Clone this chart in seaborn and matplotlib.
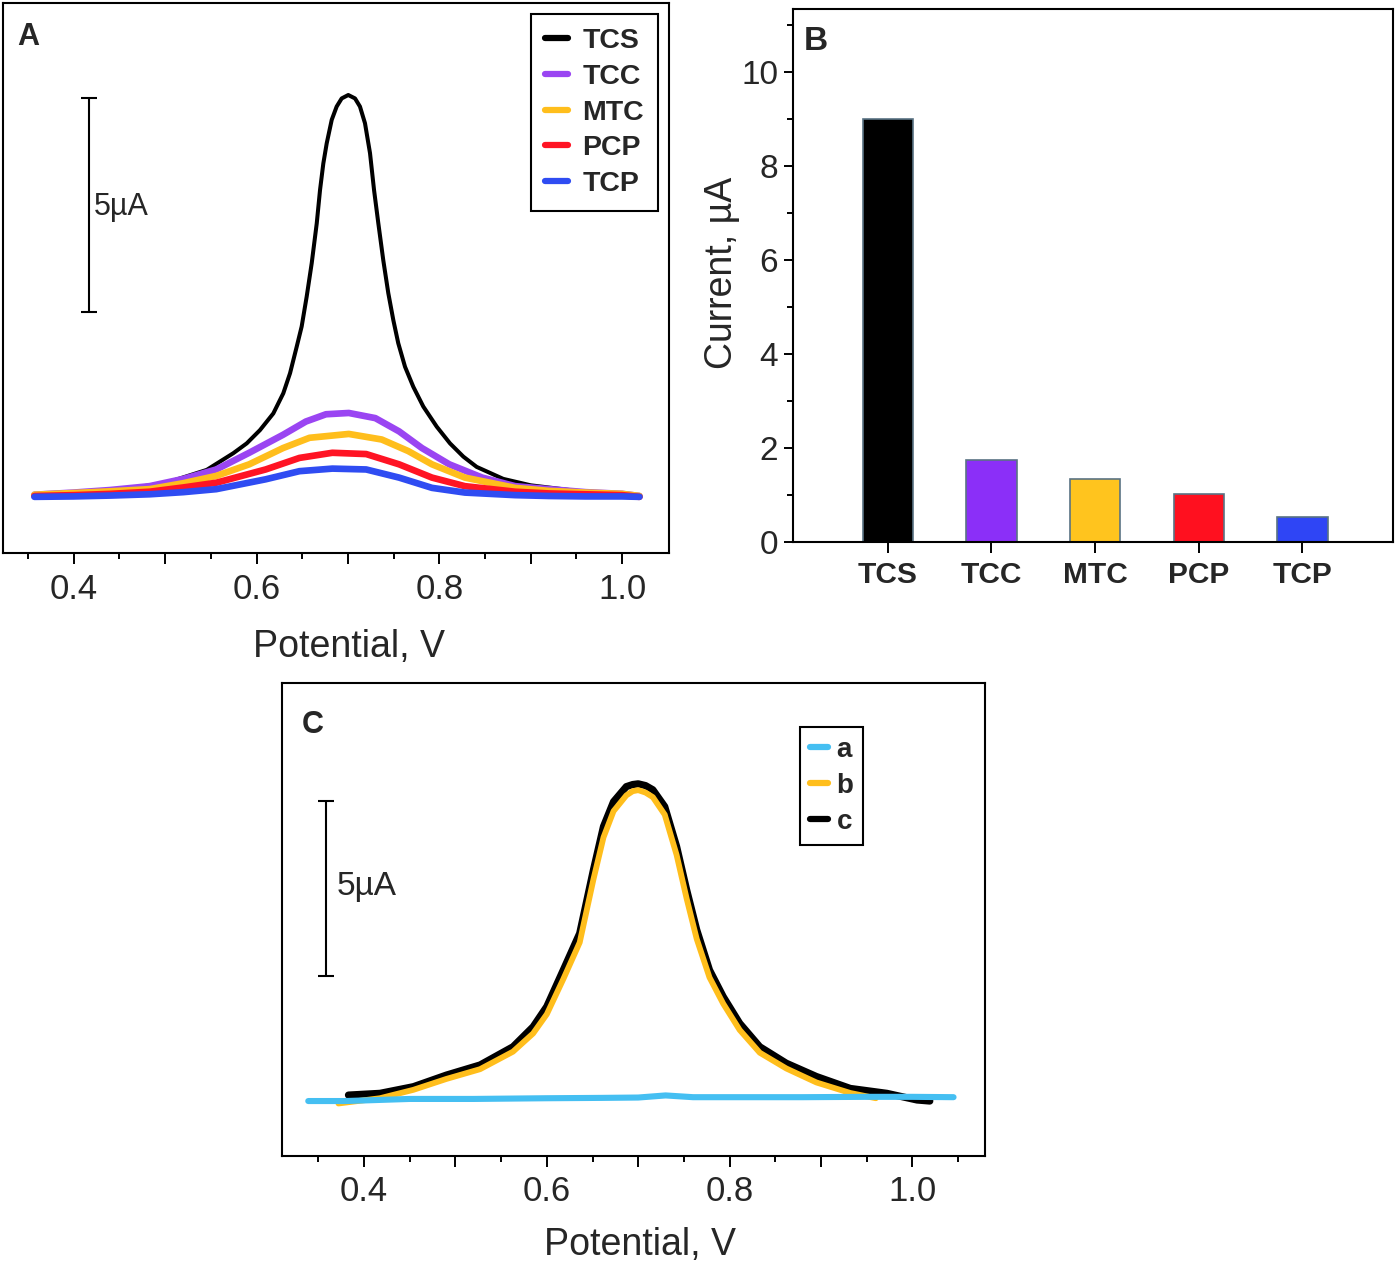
import numpy as np
import pandas as pd
import seaborn as sns
import matplotlib.pyplot as plt
from matplotlib import font_manager
from matplotlib.ticker import FixedLocator, MultipleLocator

# ---- Panel A: DPV curves of the five analytes (potential V, current uA above baseline)
tcs_v = [0.357, 0.40, 0.45, 0.50, 0.5455, 0.5746, 0.5893, 0.6038, 0.6184, 0.6293,
         0.6367, 0.644, 0.6494, 0.6549, 0.6604, 0.6659, 0.6695, 0.6731, 0.6768, 0.6823,
         0.6877, 0.6932, 0.7004, 0.7078, 0.7132, 0.7187, 0.7242, 0.7286, 0.7333, 0.7387,
         0.7442, 0.7497, 0.7551, 0.7625, 0.7716, 0.7825, 0.7972, 0.8117, 0.8263, 0.8409,
         0.87, 0.90, 0.95, 1.00, 1.019]
tcs_i = [0.0, 0.05, 0.15, 0.30, 0.61, 1.0, 1.23, 1.54, 1.93, 2.40,
         2.87, 3.49, 3.96, 4.66, 5.44, 6.37, 7.15, 7.77, 8.24, 8.79,
         9.10, 9.29, 9.37, 9.29, 9.10, 8.71, 8.01, 7.15, 6.37, 5.51,
         4.74, 4.11, 3.57, 3.02, 2.55, 2.09, 1.62, 1.23, 0.92, 0.68,
         0.40, 0.25, 0.12, 0.05, 0.0]

tcc_v = [0.357, 0.40, 0.44, 0.483, 0.52, 0.556, 0.592, 0.629, 0.654, 0.676, 0.701,
         0.730, 0.756, 0.781, 0.811, 0.847, 0.883, 0.92, 0.96, 1.00, 1.019]
tcc_i = [0.03, 0.08, 0.14, 0.23, 0.40, 0.62, 1.01, 1.43, 1.74, 1.91, 1.94,
         1.82, 1.51, 1.12, 0.74, 0.43, 0.23, 0.16, 0.09, 0.05, 0.0]

mtc_v = [0.357, 0.40, 0.44, 0.483, 0.52, 0.556, 0.592, 0.629, 0.658, 0.701, 0.737,
         0.766, 0.792, 0.828, 0.883, 0.92, 0.96, 1.00, 1.019]
mtc_i = [0.03, 0.07, 0.11, 0.16, 0.30, 0.47, 0.74, 1.12, 1.36, 1.45, 1.32,
         1.05, 0.74, 0.43, 0.19, 0.12, 0.08, 0.05, 0.0]

pcp_v = [0.357, 0.40, 0.44, 0.483, 0.52, 0.556, 0.610, 0.647, 0.683, 0.720, 0.756,
         0.792, 0.828, 0.883, 0.92, 0.96, 1.00, 1.019]
pcp_i = [0.0, 0.02, 0.05, 0.10, 0.20, 0.31, 0.62, 0.89, 1.01, 0.98, 0.74,
         0.43, 0.23, 0.10, 0.06, 0.04, 0.02, -0.02]

tcp_v = [0.357, 0.40, 0.44, 0.483, 0.52, 0.556, 0.610, 0.647, 0.683, 0.720, 0.756,
         0.792, 0.828, 0.883, 0.92, 0.96, 1.00, 1.019]
tcp_i = [-0.02, -0.01, 0.01, 0.04, 0.09, 0.16, 0.39, 0.58, 0.64, 0.62, 0.43,
         0.19, 0.08, 0.02, 0.0, -0.01, -0.01, -0.02]

analytes = ["TCS", "TCC", "MTC", "PCP", "TCP"]
line_colors = ["#000000", "#9a45f2", "#ffbe1c", "#ff1424", "#2f4cf2"]

# ---- Panel B: peak currents (uA)
bar_currents = [9.0, 1.73, 1.33, 1.01, 0.52]
bar_colors = ["#000000", "#8b2ff8", "#ffc41e", "#ff101f", "#2f45f5"]

# ---- Panel C: curves a, b, c
a_v = [0.339, 0.38, 0.45, 0.52, 0.60, 0.66, 0.70, 0.73, 0.76, 0.80, 0.88, 0.95, 1.00, 1.045]
a_i = [-0.03, -0.03, 0.03, 0.03, 0.05, 0.06, 0.07, 0.13, 0.08, 0.08, 0.08, 0.09, 0.09, 0.08]

b_v = [0.372, 0.4175, 0.454, 0.490, 0.527, 0.563, 0.585, 0.600, 0.618, 0.636, 0.651,
       0.662, 0.673, 0.687, 0.694, 0.700, 0.708, 0.716, 0.729, 0.742, 0.753, 0.764,
       0.778, 0.793, 0.811, 0.833, 0.862, 0.895, 0.932, 0.96]
b_i = [-0.10, 0.05, 0.29, 0.60, 0.88, 1.38, 1.90, 2.45, 3.45, 4.50, 6.30,
       7.50, 8.25, 8.70, 8.82, 8.85, 8.78, 8.65, 8.15, 7.00, 5.75, 4.60,
       3.50, 2.75, 2.00, 1.35, 0.90, 0.50, 0.20, 0.05]

c_v = [0.383, 0.4175, 0.454, 0.490, 0.527, 0.563, 0.585, 0.600, 0.618, 0.636, 0.651,
       0.662, 0.673, 0.687, 0.694, 0.700, 0.708, 0.716, 0.729, 0.742, 0.753, 0.764,
       0.778, 0.793, 0.811, 0.833, 0.862, 0.895, 0.932, 0.972, 1.005, 1.019]
c_i = [0.14, 0.19, 0.38, 0.71, 1.00, 1.52, 2.09, 2.67, 3.71, 4.76, 6.57,
       7.81, 8.52, 8.95, 9.01, 9.03, 8.98, 8.86, 8.38, 7.24, 6.00, 4.86,
       3.71, 2.95, 2.19, 1.52, 1.05, 0.67, 0.33, 0.19, 0.0, -0.03]

c_labels = ["a", "b", "c"]
c_colors = ["#45bff2", "#ffbe1c", "#000000"]

sns.set_style("ticks")
names = {f.name for f in font_manager.fontManager.ttflist}
narrow = "Liberation Sans Narrow" if "Liberation Sans Narrow" in names else "Liberation Sans"
plt.rcParams["font.family"] = [narrow, "DejaVu Sans"]
REG = ["Liberation Sans", "DejaVu Sans"]

fig = plt.figure(figsize=(13.95, 12.64), dpi=100)
axA = fig.add_axes([0.00215, 0.56226, 0.47765, 0.43537])
axB = fig.add_axes([0.56824, 0.57144, 0.43033, 0.4212])
axC = fig.add_axes([0.20194, 0.08544, 0.50415, 0.37421])


def potential_axis(ax, xlim, ylim, minor):
    ax.set_xlim(*xlim)
    ax.set_ylim(*ylim)
    ax.set_yticks([])
    ax.set_ylabel("")
    ax.xaxis.set_major_locator(FixedLocator([0.4, 0.5, 0.6, 0.7, 0.8, 0.9, 1.0]))
    ax.set_xticklabels(["0.4", "", "0.6", "", "0.8", "", "1.0"])
    ax.xaxis.set_minor_locator(FixedLocator(minor))
    ax.tick_params(axis="x", which="major", length=8, width=1.4, direction="out",
                   labelsize=25, pad=6, color="black")
    ax.tick_params(axis="x", which="minor", length=4, width=1.4, direction="out",
                   color="black")
    for s in ax.spines.values():
        s.set_visible(True)
        s.set_color("black")
        s.set_linewidth(1.5)
    ax.set_xlabel("Potential, V", fontsize=27)


# Panel A
curves = [(tcs_v, tcs_i), (tcc_v, tcc_i), (mtc_v, mtc_i), (pcp_v, pcp_i), (tcp_v, tcp_i)]
for (v, i), name, col in zip(curves, analytes, line_colors):
    lw = 2.9 if name == "TCS" else 4.8
    sns.lineplot(x=v, y=i, color=col, lw=lw, label=name, sort=False, estimator=None,
                 ax=axA, solid_joinstyle="round")
potential_axis(axA, (0.3226, 1.0517), (-1.339, 11.52),
               [0.35, 0.45, 0.55, 0.65, 0.75, 0.85, 0.95])
axA.xaxis.set_label_coords(0.52, -0.138)
axA.errorbar([0.4164], [6.8], yerr=[2.5], fmt="none", ecolor="black",
             elinewidth=1.5, capsize=6, capthick=1.5)
axA.text(0.4222, 6.75, "5µA", fontsize=22, ha="left", va="center")
axA.text(0.0375, 0.938, "A", transform=axA.transAxes, fontsize=22, fontweight="bold",
         ha="center", va="center", family=REG)
legA = axA.legend(loc="upper right", bbox_to_anchor=(0.983, 0.9806), frameon=True,
                  fancybox=False, edgecolor="black", framealpha=1,
                  prop={"weight": "bold", "size": 20.5}, handlelength=0.8,
                  handletextpad=0.5, labelspacing=0.345, borderpad=0.5, borderaxespad=0)
legA.get_frame().set_linewidth(1.5)
for h in legA.get_lines():
    h.set_linewidth(4.5)

# Panel B
df_b = pd.DataFrame({"analyte": analytes, "current": bar_currents})
sns.barplot(data=df_b, x="analyte", y="current", hue="analyte", palette=bar_colors,
            width=0.485, saturation=1, edgecolor="#5a7384", linewidth=1.2,
            legend=False, ax=axB)
axB.set_xlim(-0.916, 4.873)
axB.set_ylim(0, 11.33)
axB.yaxis.set_major_locator(FixedLocator([0, 2, 4, 6, 8, 10]))
axB.yaxis.set_minor_locator(MultipleLocator(1))
axB.tick_params(axis="y", which="major", length=6.5, width=1.4, labelsize=24, pad=4,
                direction="out", color="black")
axB.tick_params(axis="y", which="minor", length=4.3, width=1.4, direction="out",
                color="black", left=True)
axB.tick_params(axis="x", which="major", length=8, width=1.4, pad=6, direction="out",
                color="black")
for lab in axB.get_xticklabels():
    lab.set_fontweight("bold")
    lab.set_fontsize(21.5)
for s in axB.spines.values():
    s.set_visible(True)
    s.set_color("black")
    s.set_linewidth(1.5)
axB.set_xlabel("")
axB.set_ylabel("Current, µA", fontsize=27, family=REG)
axB.yaxis.set_label_coords(-0.088, 0.505)
axB.text(0.0388, 0.9386, "B", transform=axB.transAxes, fontsize=24, fontweight="bold",
         ha="center", va="center", family=REG)

# Panel C
sns.lineplot(x=c_v, y=c_i, color=c_colors[2], lw=5.2, sort=False, estimator=None,
             ax=axC, solid_joinstyle="round")
sns.lineplot(x=b_v, y=b_i, color=c_colors[1], lw=4.2, sort=False, estimator=None,
             ax=axC, solid_joinstyle="round")
sns.lineplot(x=a_v, y=a_i, color=c_colors[0], lw=4.4, sort=False, estimator=None,
             ax=axC, solid_joinstyle="round")
potential_axis(axC, (0.30996, 1.0794), (-1.6, 11.91),
               [0.35, 0.45, 0.55, 0.65, 0.75, 0.85, 0.95, 1.05])
axC.xaxis.set_label_coords(0.5095, -0.15)
axC.errorbar([0.3584], [6.04], yerr=[2.5], fmt="none", ecolor="black",
             elinewidth=1.5, capsize=6, capthick=1.5)
axC.text(0.3705, 6.09, "5µA", fontsize=24, ha="left", va="center")
axC.text(0.0445, 0.911, "C", transform=axC.transAxes, fontsize=22, fontweight="bold",
         ha="center", va="center", family=REG)
handles = [plt.Line2D([], [], color=c, lw=4.5) for c in c_colors]
legC = axC.legend(handles, c_labels, loc="upper right", bbox_to_anchor=(0.827, 0.907),
                  frameon=True, fancybox=False, edgecolor="black", framealpha=1,
                  prop={"weight": "bold", "size": 20}, handlelength=0.65,
                  handletextpad=0.3, labelspacing=0.36, borderpad=0.36, borderaxespad=0)
legC.get_frame().set_linewidth(1.5)

fig.savefig("out.png", dpi=100, facecolor="white")
